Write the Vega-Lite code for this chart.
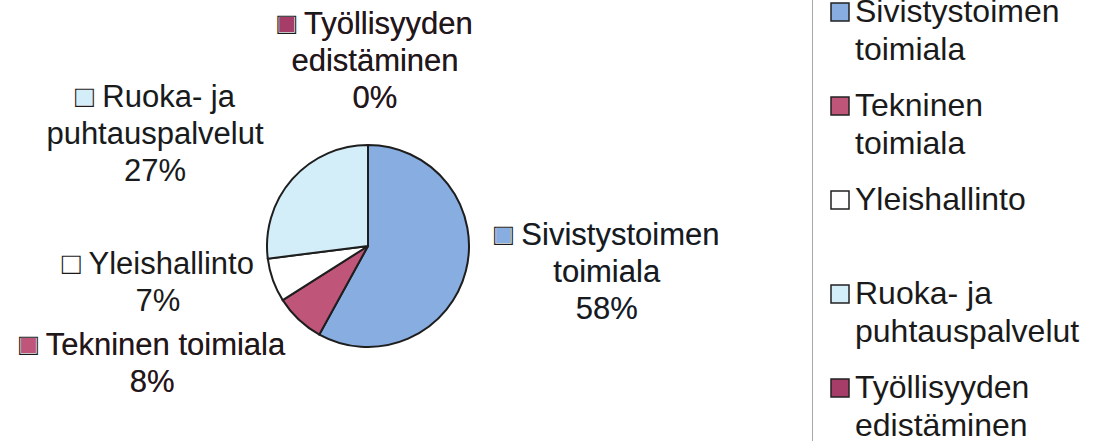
{
  "$schema": "https://vega.github.io/schema/vega-lite/v6.json",
  "width": 736,
  "height": 492,
  "autosize": {"type": "none"},
  "padding": {"left": 0, "top": 0, "right": 359, "bottom": -51},
  "background": "white",
  "config": {
    "view": {"stroke": null},
    "style": {"guide-label": {"lineHeight": 38}}
  },
  "data": {
    "values": [
      {"idx": 1, "legend": "Sivistystoimen|toimiala", "label": "Sivistystoimen|toimiala|58%", "pct": 58},
      {"idx": 2, "legend": "Tekninen|toimiala", "label": "Tekninen toimiala|8%", "pct": 8},
      {"idx": 3, "legend": "Yleishallinto", "label": "Yleishallinto|7%", "pct": 7},
      {"idx": 4, "legend": "Ruoka- ja|puhtauspalvelut", "label": "Ruoka- ja|puhtauspalvelut|27%", "pct": 27},
      {"idx": 5, "legend": "Työllisyyden|edistäminen", "label": "Työllisyyden|edistäminen|0%", "pct": 0}
    ]
  },
  "encoding": {
    "theta": {"field": "pct", "type": "quantitative", "stack": true},
    "order": {"field": "idx", "type": "quantitative"}
  },
  "layer": [
    {
      "mark": {"type": "arc", "outerRadius": 101, "stroke": "#1e1e1e", "strokeWidth": 2},
      "encoding": {
        "color": {
          "field": "legend",
          "type": "nominal",
          "scale": {
            "domain": ["Sivistystoimen|toimiala", "Tekninen|toimiala", "Yleishallinto", "Ruoka- ja|puhtauspalvelut", "Työllisyyden|edistäminen"],
            "range": ["#87ADE1", "#BF5579", "#FFFFFF", "#D3EEF8", "#A63C68"]
          },
          "legend": {
            "title": null,
            "orient": "none",
            "legendX": 812,
            "legendY": -23,
            "padding": 19,
            "strokeColor": "#a8a8a8",
            "symbolType": "square",
            "symbolSize": 324,
            "symbolStrokeColor": "#222222",
            "symbolStrokeWidth": 1.5,
            "symbolOffset": -7,
            "labelFont": "Liberation Sans",
            "labelFontSize": 32,
            "labelColor": "#1a1a1a",
            "labelLimit": 0,
            "labelOffset": -1,
            "labelExpr": "split(datum.label, '|')",
            "gridAlign": "all",
            "rowPadding": 24
          }
        }
      }
    },
    {
      "transform": [{"calculate": "'■ ' + datum.label", "as": "t"}],
      "mark": {
        "type": "text",
        "radius": 200,
        "lineBreak": "|",
        "font": "Liberation Sans",
        "fontSize": 31,
        "lineHeight": 37,
        "dx": {"expr": "datum.idx == 1 ? 45 : datum.idx == 2 ? -79 : datum.idx == 3 ? -22 : datum.idx == 4 ? -63 : 7"},
        "dy": {"expr": "datum.idx == 1 ? -60 : datum.idx == 2 ? -46 : datum.idx == 3 ? -49 : datum.idx == 4 ? -16 : -21"}
      },
      "encoding": {
        "text": {"field": "t"},
        "color": {"field": "legend", "type": "nominal", "legend": null}
      }
    },
    {
      "transform": [{"calculate": "'□ ' + datum.label", "as": "t"}],
      "mark": {
        "type": "text",
        "radius": 200,
        "lineBreak": "|",
        "font": "Liberation Sans",
        "fontSize": 31,
        "lineHeight": 37,
        "color": "#1a1a1a",
        "dx": {"expr": "datum.idx == 1 ? 45 : datum.idx == 2 ? -79 : datum.idx == 3 ? -22 : datum.idx == 4 ? -63 : 7"},
        "dy": {"expr": "datum.idx == 1 ? -60 : datum.idx == 2 ? -46 : datum.idx == 3 ? -49 : datum.idx == 4 ? -16 : -21"}
      },
      "encoding": {
        "text": {"field": "t"}
      }
    }
  ]
}
